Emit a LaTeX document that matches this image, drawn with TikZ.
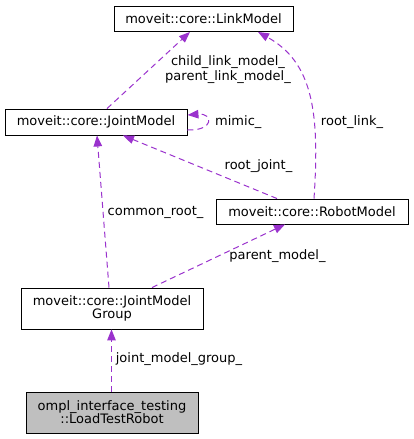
\documentclass[tikz,border=0pt]{standalone}
\usepackage{fontspec}
\setmainfont{DejaVu Sans}
\usepackage{tikz}
\usetikzlibrary{arrows.meta}

\definecolor{edgepurple}{RGB}{154,50,205}
\definecolor{leafgray}{RGB}{191,191,191}

\begin{document}
\begin{tikzpicture}[x = 1pt, y = -1pt, font = \fontsize{13}{13}\selectfont,
		cls/.style = {draw = black, line width = .9pt, align = center, inner sep = 0pt},
		dep/.style = {draw = edgepurple, line width = 1pt, dash pattern = on 6pt off 4pt,
			-{Triangle[length = 11pt, width = 8.5pt, fill = edgepurple]}},
		lbl/.style = {align = center, inner sep = 0pt}]
		\useasboundingbox (0, 0) rectangle (413, 439);
		% classes
		\node (lm) at (203.5, 19) [cls, minimum width = 179pt, minimum height = 25pt] {moveit::core::LinkModel};
		\node (jm) at (96, 122) [cls, minimum width = 182pt, minimum height = 26pt] {moveit::core::JointModel};
		\node (rm) at (312, 211.5) [cls, minimum width = 192pt, minimum height = 25pt] {moveit::core::RobotModel};
		\node (jmg) at (112, 308.5) [cls, minimum width = 182pt, minimum height = 41pt] {moveit::core::JointModel\\Group};
		\node (ltr) at (112, 412.5) [cls, fill = leafgray, minimum width = 172pt, minimum height = 41pt] {ompl\_interface\_testing\\::LoadTestRobot};
		% members
		\draw [dep] ([xshift = 11pt]jm.north) -- ([xshift = -13.5pt]lm.south);
		\draw [dep] ([yshift = -8pt]jm.east) .. controls (214, 131) and (214, 113) .. ([yshift = 7pt]jm.east);
		\draw [dep] ([xshift = 2pt]rm.north) .. controls (320, 110) and (312, 62) .. ([xshift = 54.5pt]lm.south);
		\draw [dep] ([xshift = -35pt]rm.north) -- ([xshift = 27pt]jm.south);
		\draw [dep] ([xshift = -3pt]jmg.north) -- ([xshift = 1pt]jm.south);
		\draw [dep] ([xshift = 40pt]jmg.north) -- ([xshift = -27pt]rm.south);
		\draw [dep] ([xshift = -.5pt]ltr.north) -- ([xshift = -.5pt]jmg.south);
		% labels
		\node (lchild) at (228, 70) [lbl, font = \fontsize{13}{15}\selectfont] {child\_link\_model\_\\parent\_link\_model\_};
		\node (lmimic) at (215, 122) [lbl, anchor = west] {mimic\_};
		\node (lrootlink) at (352, 122) [lbl] {root\_link\_};
		\node (lrootjoint) at (258.5, 166) [lbl] {root\_joint\_};
		\node (lcommon) at (155.5, 212) [lbl] {common\_root\_};
		\node (lparent) at (277.5, 256) [lbl] {parent\_model\_};
		\node (lgroup) at (179, 359) [lbl] {joint\_model\_group\_};
	\end{tikzpicture}
\end{document}
